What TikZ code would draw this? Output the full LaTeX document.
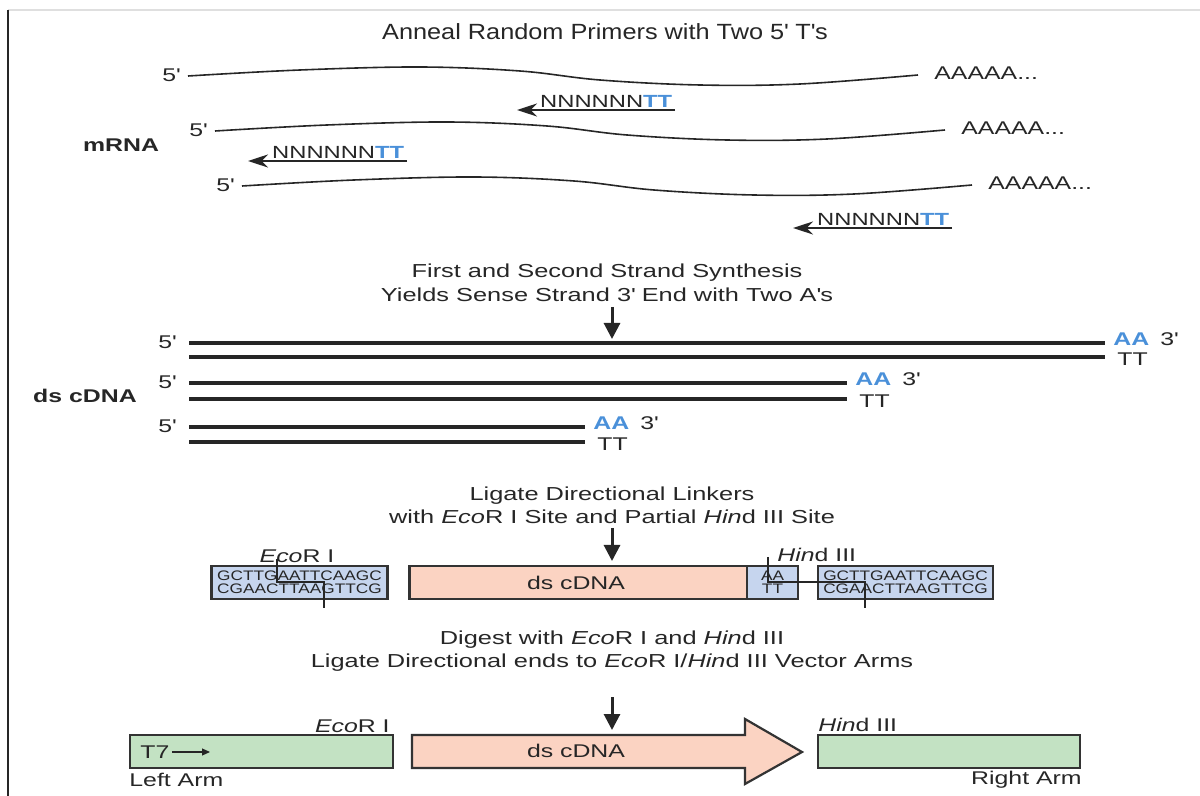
\documentclass[tikz,border=0pt]{standalone}
\usepackage{fontspec}
\setmainfont[FakeStretch=1.35]{Liberation Sans}
\newfontfamily\titlefam[FakeStretch=1.15]{Liberation Sans}
\newfontfamily\seqfam[FakeStretch=1.25]{Liberation Sans}
\usetikzlibrary{arrows.meta}
\definecolor{ntblue}{HTML}{4A90D9}
\definecolor{lnkfill}{HTML}{C6D5EE}
\definecolor{cdnafill}{HTML}{FBD3C2}
\definecolor{armfill}{HTML}{C3E2C3}
\definecolor{edgecol}{HTML}{333333}
\definecolor{ink}{HTML}{262626}
\newcommand\pr{\textquotesingle}
\begin{document}
\begin{tikzpicture}[x=0.5pt,y=-0.5pt,
  lbl/.style={font=\fontsize{9.2}{11}\selectfont, inner sep=0pt, text=ink},
  smalllbl/.style={font=\fontsize{8.8}{10}\selectfont, inner sep=0pt, text=ink},
  headtxt/.style={font=\fontsize{9.4}{12}\selectfont, align=center, inner sep=0pt, text=ink},
  boldlbl/.style={font=\fontsize{9.2}{11}\bfseries\selectfont, inner sep=0pt, text=ink},
  mrna/.style={line width=0.8pt, draw=ink},
  strand/.style={line width=1.6pt, draw=ink},
  primer/.style={line width=1.3pt, draw=ink, -{Stealth[length=10pt,width=6.5pt]}},
  downarrow/.style={line width=1.5pt, draw=ink, -{Triangle[length=8pt,width=8pt]}},
  boxstyle/.style={draw=edgecol, line width=1.1pt, inner sep=0pt, minimum height=16.5pt},
  seqtxt/.style={font=\seqfam\fontsize{6.9}{6.4}\selectfont, align=center, text=ink},
  cutline/.style={line width=0.55pt, draw=ink},
  aa/.style={font=\fontsize{9.2}{11}\bfseries\selectfont, inner sep=0pt, text=ntblue},
]
\useasboundingbox (0,0) rectangle (1200,796);
% frame
\draw[gray!25, line width=0.8pt] (8,10) -- (1200,10);
\draw[black!85, line width=1.2pt] (8,10) -- (8,796);

% ---------- Section 1 ----------
\node[font=\titlefam\fontsize{11}{12}\selectfont, inner sep=0pt, text=ink] (title) at (605,32) {Anneal Random Primers with Two 5\pr{} T\pr s};

\foreach \dx/\dy/\i in {0/0/1, 27/55/2, 54/110/3}{
  \begin{scope}[shift={(\dx,\dy)}]
    \draw[mrna] plot[smooth, tension=0.6] coordinates {(188,76) (300,70) (420,67) (520,71) (600,80) (700,85) (800,84) (918,75)};
    \node[lbl, anchor=east] (five\i) at (180,75) {5\pr};
    \node[lbl, anchor=west] (poly\i) at (934,73) {AAAAA...};
  \end{scope}
}
\node[boldlbl] (mrnalbl) at (121,145) {mRNA};

% primers
\coordinate (p1e) at (675,110); \coordinate (p1s) at (517,110);
\coordinate (p2e) at (407,161); \coordinate (p2s) at (248,161);
\coordinate (p3e) at (952,228); \coordinate (p3s) at (793,228);
\draw[primer] (p1e) -- (p1s);
\draw[primer] (p2e) -- (p2s);
\draw[primer] (p3e) -- (p3s);
\node[smalllbl, anchor=south east, inner sep=1.2pt] (pr1) at (p1e) {NNNNNN\textcolor{ntblue}{\bfseries TT}};
\node[smalllbl, anchor=south east, inner sep=1.2pt] (pr2) at (p2e) {NNNNNN\textcolor{ntblue}{\bfseries TT}};
\node[smalllbl, anchor=south east, inner sep=1.2pt] (pr3) at (p3e) {NNNNNN\textcolor{ntblue}{\bfseries TT}};

% ---------- Section 2 ----------
\node[headtxt] (h2) at (607,283) {First and Second Strand Synthesis\\Yields Sense Strand 3\pr{} End with Two A\pr s};
\coordinate (a2s) at (612,307); \coordinate (a2e) at (612,339);
\draw[downarrow] (a2s) -- (a2e);

\foreach \yt/\yb/\xe/\i in {343/357/1105/1, 383/399/847/2, 427/442/585/3}{
  \coordinate (s\i a) at (189,\yt); \coordinate (s\i b) at (\xe,\yt);
  \coordinate (t\i a) at (189,\yb); \coordinate (t\i b) at (\xe,\yb);
  \draw[strand] (s\i a) -- (s\i b);
  \draw[strand] (t\i a) -- (t\i b);
  \node[lbl, anchor=east] (d5\i) at (176,\yt-1) {5\pr};
  \node[aa, anchor=west] (aa\i) at (\xe+8,\yt-4) {AA};
  \node[lbl, anchor=west] (d3\i) at (\xe+55,\yt-4) {3\pr};
  \node[lbl, anchor=west] (tt\i) at (\xe+12,\yb+2) {TT};
}
\node[boldlbl] (dslbl) at (85,396) {ds cDNA};

% ---------- Section 3 ----------
\node[headtxt, font=\fontsize{9.4}{11.5}\selectfont] (h3) at (612,505) {Ligate Directional Linkers\\with \textit{Eco}R I Site and Partial \textit{Hin}d III Site};
\coordinate (a3s) at (612,528); \coordinate (a3e) at (612,561);
\draw[downarrow] (a3s) -- (a3e);

\node[boxstyle, fill=lnkfill, minimum width=88pt] (lk1) at (299.5,582.5) {};
\node[seqtxt] (lk1t) at (lk1.center) {GCTTGAATTCAAGC\\CGAACTTAAGTTCG};
\node[boxstyle, fill=cdnafill, minimum width=169pt] (cd3) at (578.5,582.5) {};
\node[lbl] (cd3t) at (576,583) {ds cDNA};
\node[boxstyle, fill=lnkfill, minimum width=25.5pt] (aabox) at (772.5,582.5) {};
\node[seqtxt] (aaboxt) at (aabox.center) {AA\\TT};
\node[boxstyle, fill=lnkfill, minimum width=87.5pt] (lk2) at (905.5,582.5) {};
\node[seqtxt] (lk2t) at (lk2.center) {GCTTGAATTCAAGC\\CGAACTTAAGTTCG};

\node[lbl] (eco3) at (297,556) {\textit{Eco}R I};
\node[lbl, anchor=west] (hin3) at (777,555) {\textit{Hin}d III};
\coordinate (c1a) at (277,559); \coordinate (c1b) at (277,582);
\coordinate (c1c) at (324,582); \coordinate (c1d) at (324,608);
\draw[cutline] (c1a) -- (c1b) -- (c1c) -- (c1d);
\coordinate (c2a) at (768,557); \coordinate (c2b) at (768,582);
\coordinate (c2c) at (865,582); \coordinate (c2d) at (865,608);
\draw[cutline] (c2a) -- (c2b) -- (c2c) -- (c2d);

% ---------- Section 4 ----------
\node[headtxt, font=\fontsize{9.4}{11.3}\selectfont] (h4) at (612,651) {Digest with \textit{Eco}R I and \textit{Hin}d III\\Ligate Directional ends to \textit{Eco}R I/\textit{Hin}d III Vector Arms};
\coordinate (a4s) at (612,697); \coordinate (a4e) at (612,730);
\draw[downarrow] (a4s) -- (a4e);

\node[boxstyle, fill=armfill, minimum width=131.5pt] (larm) at (261.5,751.5) {};
\node[lbl, anchor=west] (t7) at (140,752) {T7};
\coordinate (t7e) at (210,752);
\draw[line width=0.6pt, draw=ink, -{Triangle[length=4pt,width=3.5pt]}] (t7.east) ++(2,0) -- (t7e);
\node[lbl, anchor=west] (llbl) at (129,780) {Left Arm};
\node[lbl, anchor=east] (eco4) at (390,726) {\textit{Eco}R I};

\draw[draw=edgecol, line width=1.1pt, fill=cdnafill] (412,735) -- (745,735) -- (745,719) -- (802,752) -- (745,784) -- (745,768) -- (412,768) -- cycle;
\node[lbl] (cd4t) at (576,751) {ds cDNA};

\node[boxstyle, fill=armfill, minimum width=131pt] (rarm) at (949,751.5) {};
\node[lbl, anchor=west] (hin4) at (818,725) {\textit{Hin}d III};
\node[lbl, anchor=east] (rlbl) at (1082,780) {Right Arm};
\end{tikzpicture}
\end{document}
